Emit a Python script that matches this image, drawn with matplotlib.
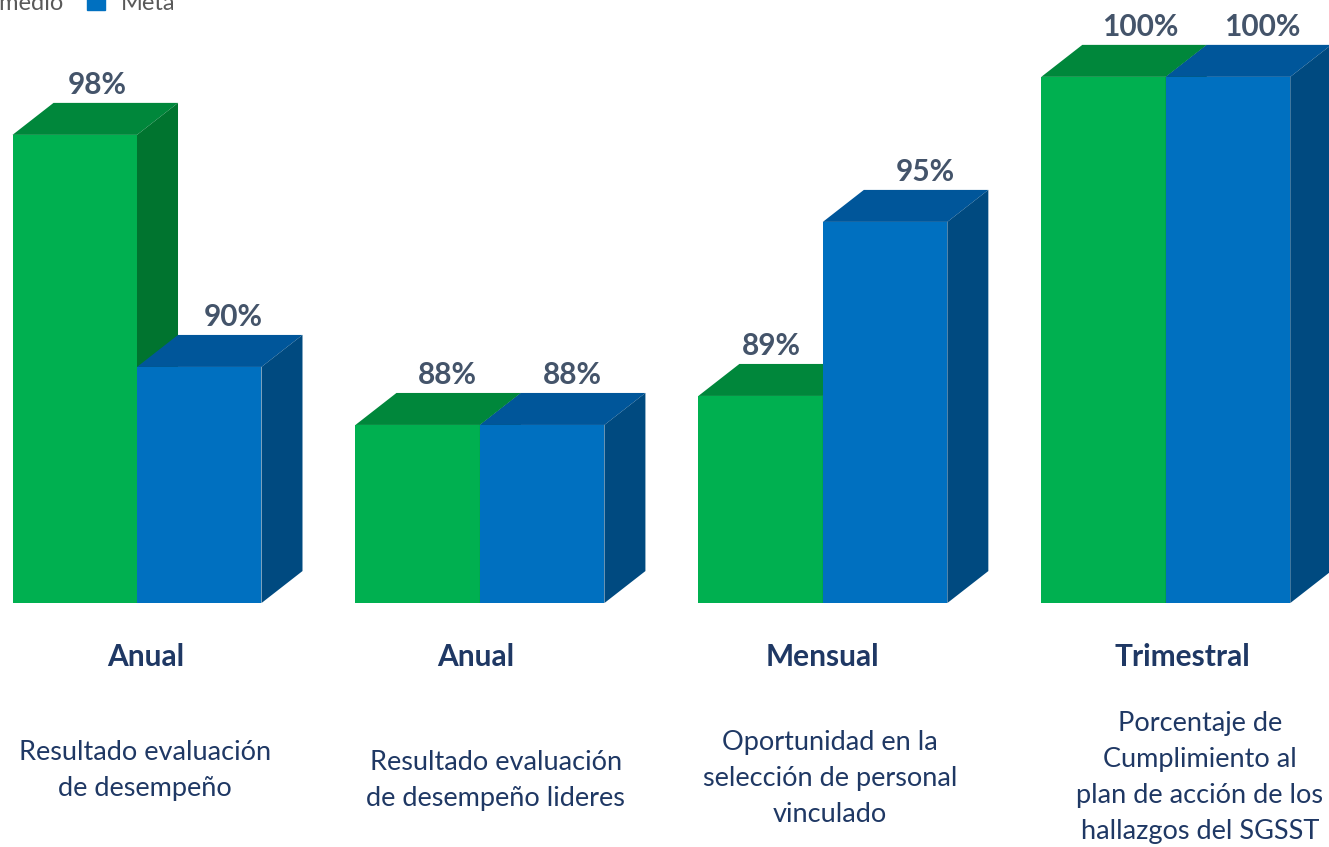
import matplotlib.pyplot as plt
from matplotlib.patches import Polygon, Patch

# Datos
frecuencias = ['Anual', 'Anual', 'Mensual', 'Trimestral']
descripciones = ['Resultado evaluación\nde desempeño',
                 'Resultado evaluación\nde desempeño lideres',
                 'Oportunidad en la\nselección de personal\nvinculado',
                 'Porcentaje de\nCumplimiento al\nplan de acción de los\nhallazgos del SGSST']
promedio = [98, 88, 89, 100]
meta = [90, 88, 95, 100]

plt.rcParams['font.family'] = ['Lato', 'DejaVu Sans']

# Colores (frente, tapa, lado)
verde = ('#00B050', '#00873B', '#00742F')
azul = ('#0070C0', '#00569A', '#004A80')

fig = plt.figure(figsize=(13.29, 8.47), dpi=100)
ax = fig.add_axes([0, 0, 1, 1])
ax.set_xlim(-0.3995, 3.476)
ax.set_ylim(73.45, 102.65)
ax.axis('off')

base = 81.86
w = 0.363          # ancho de barra
dx = 0.1196        # profundidad en x
dy = 1.103         # profundidad en y
px = 1 / 342.9     # un pixel en unidades x


def barra_3d(x0, valor, colores, off):
    x1 = x0 + w
    ax.bar(x0, valor - base, width=w, bottom=base, align='edge',
           color=colores[0], linewidth=0)
    ax.add_patch(Polygon([(x0, valor), (x0 + dx, valor + dy),
                          (x1 + dx, valor + dy), (x1, valor)],
                         closed=True, color=colores[1], lw=0))
    ax.add_patch(Polygon([(x1, base), (x1 + dx, base + dy),
                          (x1 + dx, valor + dy), (x1, valor)],
                         closed=True, color=colores[2], lw=0))
    ax.text(x0 + w / 2 + off * px, valor + dy + 0.62, f'{valor}%',
            ha='center', va='center', fontsize=21.5, fontweight='bold',
            color='#44546A')


# desplazamiento horizontal de las etiquetas (pixeles)
off_prom = [22, 30, 11, 37]
off_meta = [34, 30, 40, 34]
for i in range(len(promedio)):
    barra_3d(i - w, promedio[i], verde, off_prom[i])
    barra_3d(i, meta[i], azul, off_meta[i])

# Etiquetas de categoria
cat_dx = [9, -4, 0, 17]
desc_dx = [8, 16, 7, 34]
desc_y = [770, 780, 778, 777]
for i in range(len(frecuencias)):
    ax.text(i + cat_dx[i] * px, base - 1.86, frecuencias[i], ha='center',
            va='center', fontsize=21.5, fontweight='bold', color='#1F3864')
    yv = base - (desc_y[i] - 603) / 29
    ax.text(i + desc_dx[i] * px, yv, descripciones[i], ha='center',
            va='center', fontsize=19.5, color='#1F3864', linespacing=1.55)

# Leyenda (recortada en la esquina)
handles = [Patch(color=verde[0], label='Promedio'),
           Patch(color=azul[0], label='Meta')]
fig.legend(handles=handles, loc='center right', ncol=2, frameon=False,
           bbox_to_anchor=(175 / 1329, 0.996), fontsize=17,
           handlelength=0.75, handleheight=0.75, handletextpad=0.65,
           columnspacing=1.0, borderpad=0, borderaxespad=0,
           labelcolor='#595959')

plt.savefig('out.png', dpi=100)
